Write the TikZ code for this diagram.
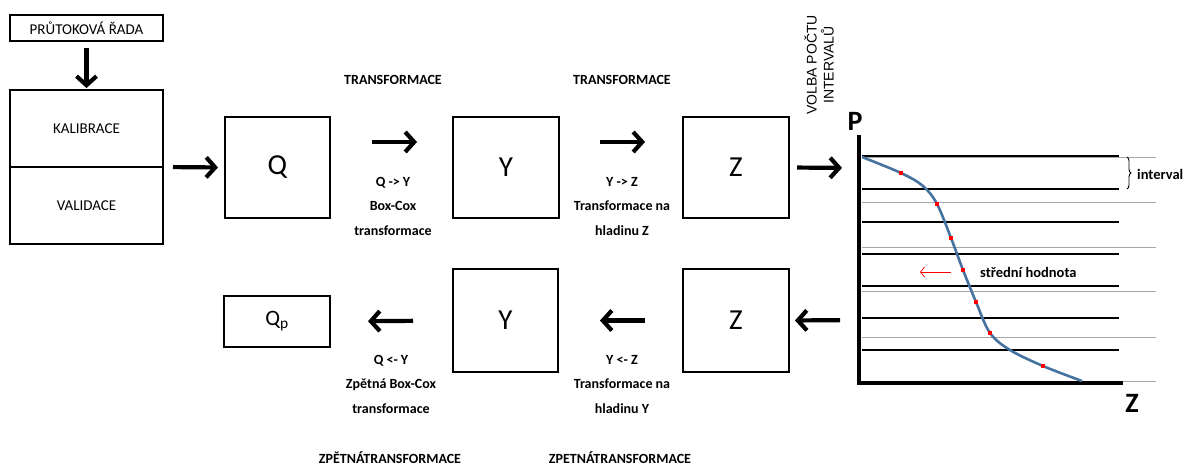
\documentclass[tikz,border=0pt]{standalone}
\usepackage{fontspec}
\setmainfont{Carlito}
\newfontfamily\arialf{Liberation Sans}
\usetikzlibrary{arrows.meta,decorations.pathreplacing}
\definecolor{curveblue}{RGB}{70,114,160}
\tikzset{
  box/.style={draw,line width=1.8pt,inner sep=0pt,outer sep=0pt},
  bigarrow/.style={line width=4.2pt,-{Straight Barb[length=9pt,width=20pt]}},
  lbl/.style={font=\bfseries\fontsize{14}{24.5}\selectfont,align=center,inner sep=0pt},
  boxtxt/.style={font=\fontsize{15}{17}\selectfont},
  bigtxt/.style={font=\fontsize{29}{30}\selectfont},
  hline/.style={line width=2pt},
  gline/.style={line width=0.8pt,black!35},
  rdot/.style={fill=red,draw=none,minimum size=4pt,inner sep=0pt}
}
\begin{document}
\begin{tikzpicture}[x=1pt,y=-1pt]
\useasboundingbox (0,0) rectangle (1190,467);
% left column
\node[box,minimum width=153pt,minimum height=26pt,boxtxt] (prut) at (86.5,28) {PRŮTOKOVÁ ŘADA};
\node[box,minimum width=153pt,minimum height=77pt,boxtxt] (kal) at (86.5,128.5) {KALIBRACE};
\node[box,minimum width=153pt,minimum height=77pt,boxtxt] (val) at (86.5,205.5) {VALIDACE};
% top row
\node[box,minimum width=105pt,minimum height=101pt,bigtxt] (Q) at (277.5,167.5) {Q};
\node[box,minimum width=106pt,minimum height=101pt,bigtxt] (Yt) at (506,167.5) {Y};
\node[box,minimum width=106pt,minimum height=101pt,bigtxt] (Zt) at (736,167.5) {Z};
% bottom row
\node[box,minimum width=106pt,minimum height=51pt,font=\fontsize{22}{24}\selectfont] (Qp) at (277,321.5) {Q\textsubscript{p}};
\node[box,minimum width=105pt,minimum height=103pt,bigtxt] (Yb) at (505.5,320.5) {Y};
\node[box,minimum width=106pt,minimum height=103pt,bigtxt] (Zb) at (736,320.5) {Z};
% chart coordinates
\coordinate (ptop) at (859,135);
\coordinate (orig) at (859,383);
\coordinate (zend) at (1123,383);
\coordinate (axin) at (859,168);
\coordinate (axout) at (859,320);
% arrows
\draw[bigarrow,shorten <=7pt,shorten >=2pt] (prut.south) -- (kal.north);
\draw[bigarrow,shorten <=10pt,shorten >=7pt] (kal.south east) -- (Q.west);
\draw[bigarrow,shorten <=42pt,shorten >=36pt] ([yshift=25.5pt]Q.east) -- ([yshift=25.5pt]Yt.west);
\draw[bigarrow,shorten <=41pt,shorten >=38pt] ([yshift=25.5pt]Yt.east) -- ([yshift=25.5pt]Zt.west);
\draw[bigarrow,shorten <=8pt,shorten >=17pt] (Zt.east) -- (axin);
\draw[bigarrow,shorten <=19pt,shorten >=6pt] (axout) -- (Zb.east);
\draw[bigarrow,shorten <=38pt,shorten >=42pt] (Zb.west) -- (Yb.east);
\draw[bigarrow,shorten <=40pt,shorten >=38pt] (Yb.west) -- (Qp.east);
% labels
\node[lbl] (t1) at (393,80) {TRANSFORMACE};
\node[lbl] (t2) at (622,80) {TRANSFORMACE};
\node[lbl,anchor=north] (l1) at (393,177) {Q -> Y\\Box-Cox\\transformace};
\node[lbl,anchor=north] (l2) at (622,177) {Y -> Z\\Transformace na\\hladinu Z};
\node[lbl,anchor=north] (l3) at (391,355) {Q <- Y\\Zpětná Box-Cox\\transformace};
\node[lbl,anchor=north] (l4) at (622,355) {Y <- Z\\Transformace na\\hladinu Y};
\node[lbl] (t3) at (390,458) {ZPĚTNÁTRANSFORMACE};
\node[lbl] (t4) at (620,458) {ZPETNÁTRANSFORMACE};
\node[rotate=90,align=center,inner sep=0pt,font=\arialf\fontsize{14}{17}\selectfont] (volba) at (819,65) {VOLBA POČTU\\INTERVALŮ};
% chart
\foreach \yy in {157,202,247,291,337,381} \draw[gline] (862,\yy) -- (1156,\yy);
\foreach \yy in {156,189,222,254,286,318,350} \draw[hline] (862,\yy) -- (1119,\yy);
\draw[line width=4.5pt,line join=miter] (ptop) -- (orig) -- (zend);
\node[font=\bfseries\fontsize{28}{30}\selectfont,inner sep=0pt] (P) at (855,121) {P};
\node[font=\bfseries\fontsize{28}{30}\selectfont,inner sep=0pt] (Zl) at (1132,403) {Z};
\draw[curveblue,line width=2.6pt] plot[smooth,tension=0.55] coordinates {(862,157) (901,173) (923,186) (937,204) (951,238) (963,270) (976,302) (990,333) (1010,350) (1043,366) (1082,381)};
\foreach \px/\py in {901/173,937/204,951/238,963/270,976/302,990/333,1043/366}
  \node[rdot] at (\px,\py) {};
\coordinate (ra) at (951,272);
\coordinate (rb) at (920,272);
\draw[red,line width=0.8pt,-{Straight Barb[length=4pt,width=10pt]}] (ra) -- (rb);
\node[font=\bfseries\fontsize{14.5}{17}\selectfont,anchor=west,inner sep=0pt] (sh) at (980,272) {střední hodnota};
\coordinate (b1) at (1127,157);
\coordinate (b2) at (1127,189);
\draw[line width=0.9pt,decorate,decoration={brace,amplitude=4pt}] (b1) -- (b2);
\node[font=\bfseries\fontsize{14.5}{17}\selectfont,anchor=west,inner sep=0pt] (iv) at (1137,174) {interval};
\end{tikzpicture}
\end{document}
